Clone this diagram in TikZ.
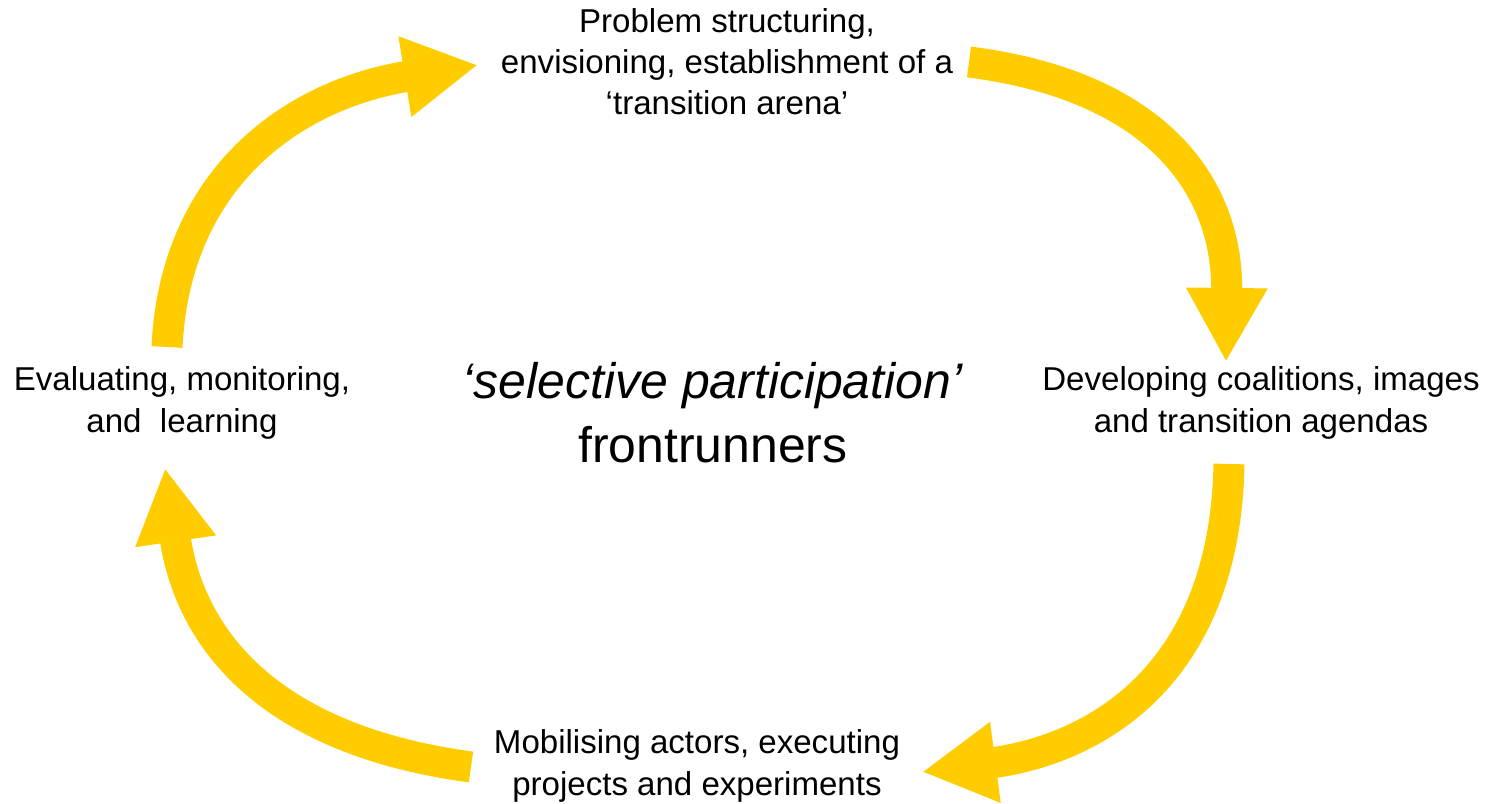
\documentclass[tikz,border=0pt]{standalone}
\usepackage{fontspec}
\setmainfont{Liberation Sans}
\usetikzlibrary{arrows.meta}
\definecolor{flowyellow}{HTML}{FFCC00}
\begin{document}
\begin{tikzpicture}[x=0.01cm,y=-0.01cm,
  lbl/.style={align=center,inner sep=0pt,font=\fontsize{9.4pt}{11.7pt}\selectfont},
  bigtxt/.style={align=center,inner sep=0pt,font=\fontsize{14.2pt}{18.2pt}\selectfont},
  flow/.style={draw=flowyellow,line width=0.31cm,
    -{Triangle[length=0.74cm,width=0.76cm,fill=flowyellow]}}]
\useasboundingbox (0,0) rectangle (1493,804);
\node[lbl] (top) at (727,62) {Problem structuring,\\envisioning, establishment of a\\‘transition arena’};
\node[lbl] (right) at (1261,403) {Developing coalitions, images\\and transition agendas};
\node[lbl] (bottom) at (697,766) {Mobilising actors, executing\\projects and experiments};
\node[lbl] (left) at (182,403) {Evaluating, monitoring,\\and\ \ learning};
\node[bigtxt] (center) at (713,413) {\textit{‘selective participation’}\\frontrunners};
\coordinate (a1s) at (167,347);
\coordinate (a1e) at (478,65);
\coordinate (a2s) at (969,62);
\coordinate (a2e) at (1226,362);
\coordinate (a3s) at (1229,464);
\coordinate (a3e) at (922,772);
\coordinate (a4s) at (471,767);
\coordinate (a4e) at (165,468);
\draw[flow] (a1s) .. controls (175,180) and (290,95) .. (a1e);
\draw[flow] (a2s) .. controls (1150,85) and (1228,180) .. (a2e);
\draw[flow] (a3s) .. controls (1225,680) and (1090,750) .. (a3e);
\draw[flow] (a4s) .. controls (270,740) and (190,640) .. (a4e);
\end{tikzpicture}
\end{document}
